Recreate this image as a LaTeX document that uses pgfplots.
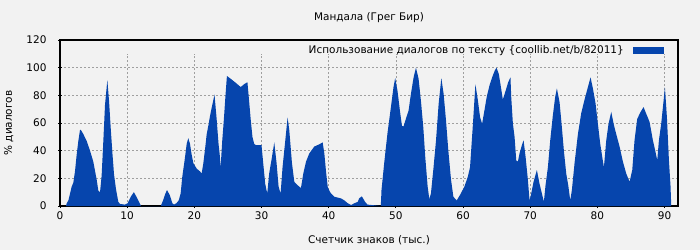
\documentclass[border=0pt]{standalone}
\usepackage{pgfplots}
\pgfplotsset{compat=1.18}
\usepackage{fontspec}
\setmainfont{DejaVu Sans}
\definecolor{bg}{RGB}{242,242,242}
\definecolor{areablue}{RGB}{6,69,173}
\begin{document}
\begin{tikzpicture}
\fill[bg] (0pt,0pt) rectangle (700pt,250pt);
\useasboundingbox (0pt,0pt) rectangle (700pt,250pt);
\begin{axis}[
  at={(60pt,44pt)}, anchor=south west,
  scale only axis, width=618pt, height=166pt,
  xmin=0, xmax=92, ymin=0, ymax=120,
  xtick={0,10,...,90}, ytick={0,20,...,120},
  tick pos=left,
  tick align=center,
  major tick length=4pt,
  axis line style={line width=1.1pt},
  tick style={line width=0.8pt, black},
  ymajorgrids=true,
  major grid style={gray!75, line width=0.7pt, dash pattern=on 2pt off 2pt},
  axis background/.style={fill=bg},
  /pgf/number format/assume math mode=true,
  tick label style={font=\fontsize{10.5pt}{12pt}\selectfont},
  yticklabel style={anchor=east, xshift=-8pt},
  xticklabel style={anchor=center, yshift=-8pt},
  title={Мандала (Грег Бир)},
  title style={at={(axis description cs:0.5,1.045)}, anchor=south, font=\fontsize{10.5pt}{12pt}\selectfont},
  xlabel={Счетчик знаков (тыс.)},
  xlabel style={at={(axis description cs:0.5,-0.205)}, anchor=center, font=\fontsize{10.5pt}{12pt}\selectfont},
  ylabel={\% диалогов},
  ylabel style={at={(axis description cs:-0.083,0.5)}, anchor=center, font=\fontsize{10.5pt}{12pt}\selectfont},
  legend style={at={(axis description cs:0.979,0.985)}, anchor=north east, draw=none, fill=none, font=\fontsize{10.5pt}{12pt}\selectfont, inner sep=1pt},
  legend cell align=right,
  legend plot pos=right,
  legend image code/.code={\path (0pt,0pt); \fill[areablue] (7pt,-3.5pt) rectangle (38pt,3.5pt);},
]
\pgfplotsinvokeforeach{10,20,...,90}{
  \draw[gray!75, line width=0.7pt, dash pattern=on 2pt off 2pt] (axis cs:#1,0) -- (axis cs:#1,110);
}
\addplot[fill=areablue, draw=none] coordinates {
(0.9,0) (1.0,2) (1.25,4) (1.74,14) (1.99,17) (2.23,25) (2.48,37) (2.73,47) (2.98,55) (3.1,55)
(3.47,52) (3.97,47) (4.47,40) (4.96,32) (5.46,19) (5.71,11) (5.96,10) (6.2,22) (6.45,47) (6.7,73)
(6.95,86) (7.05,91) (7.3,76) (7.54,57) (7.79,39) (8.04,23) (8.34,12) (8.68,3) (8.93,1.5) (9.67,1)
(10.07,2) (10.57,7) (11.0,10) (11.51,5.5) (12.06,0) (15.0,0) (15.34,4) (15.69,9) (15.93,11.5) (16.33,8)
(16.73,2) (16.97,1) (17.32,2) (17.67,4) (17.96,9) (18.2,21) (18.55,33) (18.86,45) (19.1,49) (19.35,45)
(19.6,37) (19.85,31) (20.35,27) (20.84,25) (21.09,23.5) (21.34,31) (21.59,41) (21.84,52) (22.08,58) (22.33,65)
(22.58,71) (23.0,80.5) (23.3,64) (23.6,45) (23.8,36) (23.9,27) (24.15,47) (24.4,63) (24.65,81) (24.85,94)
(25.4,92) (26.17,89) (26.9,86) (27.4,88) (27.9,89.5) (28.15,76) (28.4,62) (28.65,50) (28.9,45) (29.15,44)
(30.0,44) (30.25,31) (30.55,16) (30.85,9) (31.14,23.5) (31.54,35) (31.9,46) (32.24,31) (32.54,14) (32.84,9)
(33.13,28) (33.53,47) (33.88,64) (34.13,55) (34.53,31) (34.88,17.5) (35.37,15) (35.87,13) (36.22,23.5) (36.62,32)
(37.11,38) (37.86,43) (38.61,44.6) (39.1,46) (39.35,38) (39.6,25) (39.85,14) (40.1,11) (40.35,9) (40.85,6.7)
(41.84,5.5) (42.34,4) (42.84,2) (43.33,0.7) (43.83,2) (44.33,3) (44.53,5.5) (44.93,7) (45.42,3) (45.77,1)
(46.42,0.7) (47.76,0) (47.86,11.5) (48.26,31) (48.76,53) (49.25,71) (49.65,86) (49.9,92.5) (50.25,83) (50.6,69)
(50.9,58) (51.14,57.5) (51.49,63) (51.89,69) (52.24,81) (52.64,93) (52.99,100) (53.38,92) (53.73,76) (54.08,57)
(54.38,35) (54.73,14) (54.98,5) (55.22,9) (55.57,26) (55.97,47) (56.37,74) (56.77,92.5) (57.11,81) (57.46,62)
(57.81,40) (58.21,19) (58.56,6.7) (59.05,4) (59.55,8) (60.2,14) (60.7,21) (61.04,28) (61.44,57) (61.84,88)
(62.19,77) (62.54,64) (62.84,59.5) (63.18,69) (63.53,79) (63.93,87) (64.33,93) (64.73,98) (64.98,100) (65.32,95.5)
(65.67,85) (65.92,77) (66.32,83) (66.72,89.5) (67.06,93) (67.17,79) (67.42,59.5) (67.67,50) (67.92,33) (68.16,32)
(68.41,38) (68.76,44) (69.01,47.5) (69.31,35.5) (69.65,19) (69.9,4) (70.15,9) (70.5,17.5) (70.99,26) (71.39,16)
(71.74,9) (72.03,3) (72.28,15) (72.63,28) (72.98,47.5) (73.37,65.5) (73.72,79) (73.97,85) (74.37,75) (74.71,57)
(75.01,40) (75.36,23.5) (75.66,15) (75.96,4) (76.2,11.5) (76.6,31) (77.1,52) (77.59,67) (78.09,77) (78.59,86)
(78.98,93) (79.33,85) (79.73,74) (80.07,59.5) (80.42,45) (80.72,35.5) (80.97,28) (81.32,47.5) (81.66,59.5) (82.06,68)
(82.41,59.5) (82.8,52) (83.3,43) (83.8,32) (84.29,23.5) (84.79,17.5) (85.19,26) (85.53,47.5) (85.93,63) (86.43,68)
(86.87,71.5) (87.37,65.5) (87.77,60.7) (88.26,47.5) (88.61,40) (88.91,33) (89.16,47.5) (89.5,59.5) (89.85,76) (90.05,86)
(90.35,64) (90.65,33) (90.89,14) (90.99,0)
} \closedcycle;
\addlegendentry{Использование диалогов по тексту \{coollib.net/b/82011\}}
\end{axis}
\end{tikzpicture}
\end{document}
